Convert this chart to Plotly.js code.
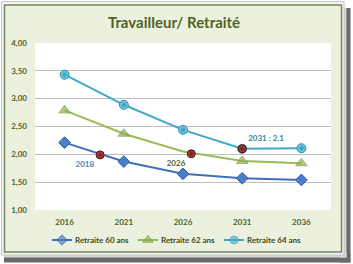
<!DOCTYPE html>
<html>
<head>
<meta charset="utf-8">
<script src="https://cdn.plot.ly/plotly-3.0.1.min.js"></script>
<style>
  html, body { margin: 0; padding: 0; background: #ffffff; }
  #chart { width: 353px; height: 264px; }
</style>
</head>
<body>
<div id="chart"></div>
<script>
// Ratio travailleurs / retraités selon l'âge de départ
const years = [2016, 2021, 2026, 2031, 2036];
const yearTicks = ['2016', '2021', '2026', '2031', '2036'];
const retraite60 = [2.21, 1.87, 1.65, 1.57, 1.54];
const retraite62 = [2.79, 2.37, 2.05, 1.88, 1.84];
const retraite64 = [3.43, 2.89, 2.44, 2.10, 2.11];
const seriesNames = ['Retraite 60 ans', 'Retraite 62 ans', 'Retraite 64 ans'];

// Points d'équilibre mis en évidence
const equilibreAnnees = [2019.0, 2026.7, 2031];
const equilibreValeurs = [1.99, 2.01, 2.10];
const equilibreLabels = ['2018', '2026', '2031 : 2.1'];

// Figure geometry in pixels (the paper spans the whole figure)
const W = 353, H = 264;
const PLOT = { left: 35, right: 331, top: 43, bottom: 210 };
const px = p => p / W;
const py = p => 1 - p / H;

function rect(x0, y0, x1, y1, fill, line, lw) {
  return {
    type: 'rect', xref: 'paper', yref: 'paper', layer: 'below',
    x0: px(x0), x1: px(x1), y0: py(y1), y1: py(y0),
    fillcolor: fill, line: { color: line || 'rgba(0,0,0,0)', width: lw || 0 }
  };
}

const tickFont = { family: 'Lato, sans-serif', size: 8, weight: 'bold', color: '#4F6228' };

// Series styles, shared by the plotted lines and their legend keys
const styles = [
  { line: { color: '#3F6FC0', width: 2 },
    marker: { symbol: 'diamond', size: 9, color: '#4A7EC8', line: { color: '#2E5A9E', width: 1 } } },
  { line: { color: '#9BBB59', width: 2 },
    marker: { symbol: 'triangle-up', size: 10, color: '#8FB24E', line: { color: '#76933C', width: 1 } } },
  { line: { color: '#3FAAC6', width: 2 },
    marker: { symbol: 'circle', size: 9, color: '#7FD3EA', gradient: { type: 'radial', color: '#2C9AB8' }, line: { color: '#2A8CA8', width: 1 } } }
];
const seriesValues = [retraite60, retraite62, retraite64];

const traces = seriesValues.map((vals, i) => {
  const marker = Object.assign({}, styles[i].marker);
  // the 62-ans point of 2026 carries no marker
  if (i === 1) marker.size = vals.map((v, k) => (k === 2 ? 0 : styles[i].marker.size));
  return {
    x: years, y: vals, name: seriesNames[i], type: 'scatter', mode: 'lines+markers',
    line: styles[i].line, marker: marker, showlegend: false, hoverinfo: 'skip'
  };
});

traces.push({
  x: equilibreAnnees, y: equilibreValeurs, type: 'scatter', mode: 'markers+text', showlegend: false,
  text: equilibreLabels,
  textposition: ['bottom left', 'bottom left', 'top right'],
  textfont: { family: 'Lato, sans-serif', size: 8, weight: 'bold', color: ['#4F81BD', '#4F6228', '#31859C'] },
  marker: { symbol: 'circle', size: 8, color: '#C04848', gradient: { type: 'radial', color: '#6A1616' }, line: { color: '#401010', width: 1 } },
  hoverinfo: 'skip'
});

// Legend keys, drawn on a pixel overlay axis
const LEG = { x: 52, y: 240, pitch: 86, key: 20 };
const annotations = [];
seriesNames.forEach((name, i) => {
  const x0 = LEG.x + i * LEG.pitch;
  traces.push({
    x: [x0, x0 + LEG.key / 2, x0 + LEG.key], y: [LEG.y, LEG.y, LEG.y],
    xaxis: 'x2', yaxis: 'y2', type: 'scatter', mode: 'lines+markers', showlegend: false, hoverinfo: 'skip',
    line: styles[i].line,
    marker: Object.assign({}, styles[i].marker, { size: [0, styles[i].marker.size - 1, 0] })
  });
  annotations.push({
    text: name, xref: 'paper', yref: 'paper', x: px(x0 + LEG.key + 1), y: py(LEG.y),
    xanchor: 'left', yanchor: 'middle', showarrow: false,
    font: { family: 'Lato, sans-serif', size: 8, weight: 'bold', color: '#3B4A22' }
  });
});

const layout = {
  width: W, height: H,
  margin: { l: 0, r: 0, t: 0, b: 0 },
  paper_bgcolor: '#ffffff',
  plot_bgcolor: 'rgba(0,0,0,0)',
  separators: ', ',
  showlegend: false,
  title: {
    text: 'Travailleur/ Retraité',
    font: { family: 'Lato, sans-serif', size: 15, weight: 'bold', color: '#4F6228' },
    x: 174 / W, xref: 'container', xanchor: 'center',
    y: py(23), yref: 'container', yanchor: 'middle'
  },
  xaxis: {
    domain: [px(PLOT.left), px(PLOT.right)], anchor: 'y',
    type: 'linear', range: [2013.5, 2038.5], fixedrange: true,
    tickmode: 'array', tickvals: years, ticktext: yearTicks,
    showgrid: false, zeroline: false, showline: false,
    ticks: '', ticklabelstandoff: 6, tickfont: tickFont
  },
  yaxis: {
    domain: [py(PLOT.bottom), py(PLOT.top)], anchor: 'x',
    range: [1, 4], dtick: 0.5, tick0: 1, tickformat: '.2f', fixedrange: true,
    showgrid: true, gridcolor: '#BFBFBF', gridwidth: 1,
    zeroline: false, showline: false, ticks: '', ticklabelstandoff: 7, tickfont: tickFont
  },
  xaxis2: { domain: [0, 1], range: [0, W], anchor: 'y2', visible: false, fixedrange: true },
  yaxis2: { domain: [0, 1], range: [H, 0], anchor: 'x2', visible: false, fixedrange: true },
  annotations: annotations,
  shapes: [
    // drop shadow around the framed chart
    rect(340, 8, 350.5, 262.5, '#6a6a6a'),
    rect(4, 254, 350.5, 262.5, '#6a6a6a'),
    rect(340, 8, 346.5, 257.5, '#d2d2d2'),
    rect(4, 252, 346.5, 257.5, '#d6d6d6'),
    // light outline and green chart area
    rect(1.5, 1.5, 344, 255, '#f4f4f4', '#c6c6c6', 1),
    rect(4.5, 5, 341.5, 252, '#EBF1DE', '#75865A', 1.5),
    // white plotting area
    rect(PLOT.left, PLOT.top, PLOT.right, PLOT.bottom, '#ffffff')
  ]
};

Plotly.newPlot('chart', traces, layout, { displayModeBar: false, staticPlot: true });
</script>
</body>
</html>
